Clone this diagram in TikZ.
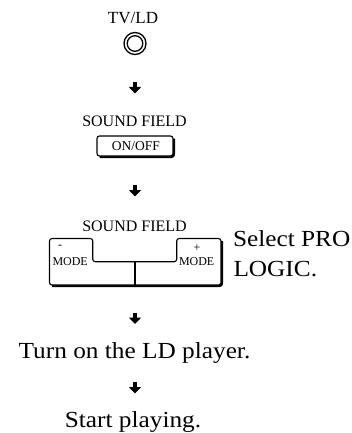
\documentclass[tikz,border=0pt]{standalone}
\usepackage{fontspec}
\setmainfont{Liberation Serif}
\newfontfamily\bigfont[FakeStretch=1.1]{Liberation Serif}
\usetikzlibrary{arrows.meta}
\tikzset{
  lbl/.style={inner sep=0pt, outer sep=0pt, anchor=base, font=\fontsize{16}{18}\selectfont},
  keytxt/.style={inner sep=0pt, outer sep=0pt, anchor=base, font=\fontsize{13.5}{15}\selectfont},
  modetxt/.style={inner sep=0pt, outer sep=0pt, font=\fontsize{12}{14}\selectfont},
  big/.style={inner sep=0pt, outer sep=0pt, font=\bigfont\fontsize{23}{29}\selectfont},
  keybox/.style={draw, fill=white, line width=1.1pt, rounded corners=2.5pt},
  keyshadow/.style={line width=2.4pt, rounded corners=3pt},
  blockarrow/.style={line width=4.8pt, -{Triangle[width=12pt,length=6.5pt]}},
}
\begin{document}
\begin{tikzpicture}[x=1pt,y=-1pt]
\useasboundingbox (0,0) rectangle (351,433);
% TV/LD
\node[lbl, font=\fontsize{17}{19}\selectfont] (tvlbl) at (133,24) {TV/LD};
\draw[line width=1.3pt] (135,43.5) circle (11);
\draw[line width=1.3pt] (135,43.5) circle (7.8);
\coordinate (tvbtn) at (135,43.5);
% arrow 1
\coordinate (a1s) at (135,82);
\coordinate (a1e) at (135,93.5);
\draw[blockarrow] (a1s) -- (a1e);
% SOUND FIELD ON/OFF
\node[lbl] (sf1) at (134.5,126.7) {SOUND FIELD};
\draw[keyshadow] (174,138.5) -- (174,157) -- (99.5,157);
\draw[keybox] (97,136) rectangle (173,156);
\node[keytxt] (onoff) at (136,150) {ON/OFF};
% arrow 2
\coordinate (a2s) at (135,185);
\coordinate (a2e) at (135,196.5);
\draw[blockarrow] (a2s) -- (a2e);
% SOUND FIELD MODE keys
\node[lbl] (sf2) at (134.5,231) {SOUND FIELD};
\draw[keyshadow] (222,241) -- (222,286) -- (52,286);
\draw[keybox] (49.5,238.5) -- (92.7,238.5) -- (92.7,261.7) -- (176.7,261.7) -- (176.7,238.5) -- (221,238.5) -- (221,285) -- (49.5,285) -- cycle;
\coordinate (mid) at (135,261.7);
\coordinate (midb) at (135,285);
\draw[line width=1.1pt] (mid) -- (midb);
\node[modetxt, anchor=center] (minus) at (60,247) {-};
\node[modetxt, anchor=base west] (model) at (52.5,265) {MODE};
\node[modetxt, anchor=center] (plus) at (197,248) {+};
\node[modetxt, anchor=base west] (moder) at (179,265) {MODE};
\node[big, anchor=base west] (sel1) at (233,246.7) {Select PRO};
\node[big, anchor=base west] (sel2) at (233.5,276) {LOGIC.};
% arrow 3
\coordinate (a3s) at (135,312.5);
\coordinate (a3e) at (135,324);
\draw[blockarrow] (a3s) -- (a3e);
\node[big, anchor=base] (turn) at (134.5,358) {Turn on the LD player.};
% arrow 4
\coordinate (a4s) at (135,382);
\coordinate (a4e) at (135,393.5);
\draw[blockarrow] (a4s) -- (a4e);
\node[big, anchor=base] (start) at (133,427) {Start playing.};
\end{tikzpicture}
\end{document}
